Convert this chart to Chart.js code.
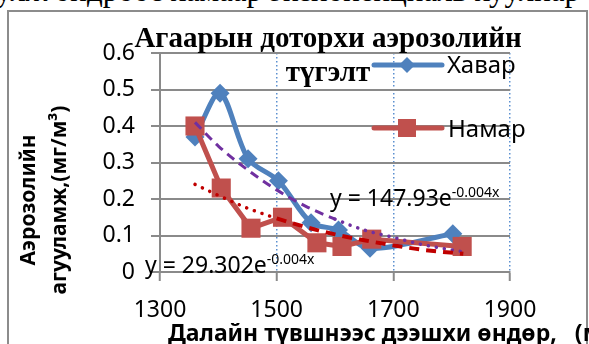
<!DOCTYPE html>
<html>
<head>
<meta charset="utf-8">
<script src="https://cdn.jsdelivr.net/npm/chart.js@4/dist/chart.umd.min.js"></script>
<style>
  html, body { margin: 0; padding: 0; background: #fff; overflow: hidden; }
  #page { position: relative; width: 589px; height: 344px; overflow: hidden; }
  #body-text {
    position: absolute; right: 9px; top: -27px; white-space: nowrap;
    font-family: 'Liberation Serif', serif; font-size: 31px; color: #000;
  }
  #frame {
    position: absolute; left: 7px; top: 10px; width: 577px; height: 360px;
    border: 2px solid #8c8c8c;
  }
  #chart { position: absolute; left: 0; top: 0; }
</style>
</head>
<body>
<div id="page">
  <div id="body-text">улж өндрөөс хамаар экспоненциаль хуулиар</div>
  <div id="frame"></div>
  <canvas id="chart" width="589" height="344"></canvas>
</div>
<script>
'use strict';

// ************************** DATA ****************************************** //
let seriesNames = ['Хавар', 'Намар'];

let springAltitudes = [1360, 1403, 1451, 1503, 1559, 1606, 1660, 1802];
let springValues = [0.37, 0.49, 0.31, 0.25, 0.135, 0.115, 0.065, 0.105];

let autumnAltitudes = [1360, 1405, 1456, 1510, 1569, 1612, 1663, 1818];
let autumnValues = [0.40, 0.23, 0.12, 0.15, 0.08, 0.07, 0.09, 0.07];

// trendlines
let trendAltitudes = [1360, 1400, 1450, 1500, 1550, 1600, 1650, 1700, 1750, 1820];
let springTrend = [0.41, 0.345, 0.28, 0.225, 0.18, 0.145, 0.115, 0.095, 0.075, 0.055];
let autumnTrend = [0.24, 0.21, 0.175, 0.147, 0.123, 0.103, 0.087, 0.073, 0.061, 0.05];

let xTickLabels = ['1300', '1500', '1700', '1900'];
let yTickLabels = ['0', '0.1', '0.2', '0.3', '0.4', '0.5', '0.6'];

let titleLines = ['Агаарын доторхи аэрозолийн', 'түгэлт'];
let yTitleLines = ['Аэрозолийн', 'агууламж,(мг/м³)'];
let xTitle = 'Далайн түвшнээс дээшхи өндөр,   (м)';
let springEquation = 'y = 147.93e';
let autumnEquation = 'y = 29.302e';
let equationPower = '-0.004x';

// ************************** COLOURS *************************************** //
let blue = '#4f81bd';
let red = '#c0504d';
let purple = '#7030a0';
let darkRed = '#c00000';
let gridGray = '#8a8a8a';
let sansFont = '"Noto Sans", sans-serif';

// ************************** HELPERS *************************************** //
function toPoints(xs, ys) {
  let points = [];
  for(let i = 0; i < xs.length; i++) {
    points.push({ x: xs[i], y: ys[i] });
  }
  return points;
}

function drawDiamond(ctx, x, y, r, color) {
  ctx.beginPath();
  ctx.moveTo(x, y - r);
  ctx.lineTo(x + r, y);
  ctx.lineTo(x, y + r);
  ctx.lineTo(x - r, y);
  ctx.closePath();
  ctx.fillStyle = color;
  ctx.fill();
}

function drawEquation(ctx, text, x, y) {
  ctx.font = '23px ' + sansFont;
  ctx.textAlign = 'left';
  ctx.textBaseline = 'alphabetic';
  ctx.fillStyle = '#000';
  ctx.fillText(text, x, y);
  let w = ctx.measureText(text).width;
  ctx.font = '14px ' + sansFont;
  ctx.fillText(equationPower, x + w, y - 9);
}

// ************************** TEXT PLUGIN *********************************** //
let textPlugin = {
  id: 'textPlugin',
  afterDraw(chart) {
    let ctx = chart.ctx;
    ctx.save();

    // title
    ctx.fillStyle = '#000';
    ctx.textAlign = 'center';
    ctx.textBaseline = 'alphabetic';
    ctx.font = 'bold 29px "Liberation Serif", serif';
    ctx.fillText(titleLines[0], 328, 47);
    ctx.fillText(titleLines[1], 328, 81);

    // legend
    ctx.lineCap = 'round';
    ctx.lineWidth = 5;
    ctx.strokeStyle = blue;
    ctx.beginPath();
    ctx.moveTo(374, 65);
    ctx.lineTo(442, 65);
    ctx.stroke();
    drawDiamond(ctx, 407, 65, 8, blue);

    ctx.strokeStyle = red;
    ctx.beginPath();
    ctx.moveTo(374, 128);
    ctx.lineTo(442, 128);
    ctx.stroke();
    ctx.fillStyle = red;
    ctx.fillRect(398, 119, 18, 18);

    ctx.fillStyle = '#000';
    ctx.textAlign = 'left';
    ctx.textBaseline = 'middle';
    ctx.font = '24px ' + sansFont;
    ctx.fillText(seriesNames[0], 447, 66);
    ctx.fillText(seriesNames[1], 448, 130);

    // trend equations
    drawEquation(ctx, springEquation, 330, 206);
    drawEquation(ctx, autumnEquation, 145, 273);

    // axis titles
    ctx.fillStyle = '#000';
    ctx.textAlign = 'center';
    ctx.textBaseline = 'middle';
    ctx.font = 'bold 21px ' + sansFont;
    ctx.save();
    ctx.translate(29, 200);
    ctx.rotate(-Math.PI / 2);
    ctx.fillText(yTitleLines[0], 0, 0);
    ctx.restore();
    ctx.save();
    ctx.translate(60, 200);
    ctx.rotate(-Math.PI / 2);
    ctx.fillText(yTitleLines[1], 0, 0);
    ctx.restore();

    ctx.textAlign = 'left';
    ctx.font = 'bold 23px ' + sansFont;
    ctx.fillText(xTitle, 168, 334);

    ctx.restore();
  }
};

// ************************** CHART ***************************************** //
let springLine = {
  label: seriesNames[0],
  data: toPoints(springAltitudes, springValues),
  borderColor: blue,
  backgroundColor: blue,
  borderWidth: 5,
  pointStyle: 'rectRot',
  pointRadius: 9.5,
  pointBorderWidth: 0,
  tension: 0.3,
  order: 3
};

let autumnLine = {
  label: seriesNames[1],
  data: toPoints(autumnAltitudes, autumnValues),
  borderColor: red,
  backgroundColor: red,
  borderWidth: 5,
  pointStyle: 'rect',
  pointRadius: 13.5,
  pointBorderWidth: 0,
  tension: 0,
  order: 2
};

let springTrendLine = {
  label: 'spring trend',
  data: toPoints(trendAltitudes, springTrend),
  borderColor: purple,
  borderWidth: 3,
  pointRadius: 0,
  cubicInterpolationMode: 'monotone',
  segment: {
    borderDash: ctx => ctx.p0.parsed.x < 1555 ? [9, 6] : [0.1, 8],
    borderCapStyle: ctx => ctx.p0.parsed.x < 1555 ? 'butt' : 'round',
    borderWidth: ctx => ctx.p0.parsed.x < 1555 ? 3 : 3.5
  },
  order: 1
};

let autumnTrendLine = {
  label: 'autumn trend',
  data: toPoints(trendAltitudes, autumnTrend),
  borderColor: darkRed,
  borderWidth: 3,
  pointRadius: 0,
  cubicInterpolationMode: 'monotone',
  segment: {
    borderDash: ctx => ctx.p0.parsed.x < 1500 ? [0.1, 8] : [10, 7],
    borderCapStyle: ctx => ctx.p0.parsed.x < 1500 ? 'round' : 'butt',
    borderWidth: ctx => ctx.p0.parsed.x < 1500 ? 3.5 : 4
  },
  order: 0
};

let chartObj = {
  type: 'line',
  data: {
    datasets: [springLine, autumnLine, springTrendLine, autumnTrendLine]
  },
  options: {
    responsive: false,
    animation: false,
    devicePixelRatio: 1,
    layout: {
      padding: { left: 0, top: 53, right: 79, bottom: 0 }
    },
    plugins: {
      legend: { display: false },
      title: { display: false },
      tooltip: { enabled: false }
    },
    scales: {
      x: {
        type: 'linear',
        min: 1300,
        max: 1900,
        afterFit: scale => { scale.height = 72; },
        ticks: {
          stepSize: 200,
          padding: 16,
          color: '#000',
          font: { family: sansFont, size: 23 },
          callback: (value, index) => xTickLabels[index]
        },
        grid: {
          color: ctx => ctx.tick && ctx.tick.value === 1300 ? 'rgba(0,0,0,0)' : '#5b8fd0',
          lineWidth: 1.5,
          tickLength: 9,
          tickColor: gridGray,
          tickWidth: 2,
          tickBorderDash: []
        },
        border: { color: gridGray, width: 2, dash: [1.5, 2.5] }
      },
      y: {
        min: 0,
        max: 0.6,
        afterFit: scale => { scale.width = 160; },
        ticks: {
          stepSize: 0.1,
          padding: 16,
          color: '#000',
          font: { family: sansFont, size: 23 },
          callback: (value, index) => yTickLabels[index]
        },
        grid: {
          color: gridGray,
          lineWidth: 2,
          tickLength: 9
        },
        border: { color: gridGray, width: 2 }
      }
    }
  },
  plugins: [textPlugin]
};

let chart = document.getElementById('chart');
new Chart(chart, chartObj);
</script>
</body>
</html>
